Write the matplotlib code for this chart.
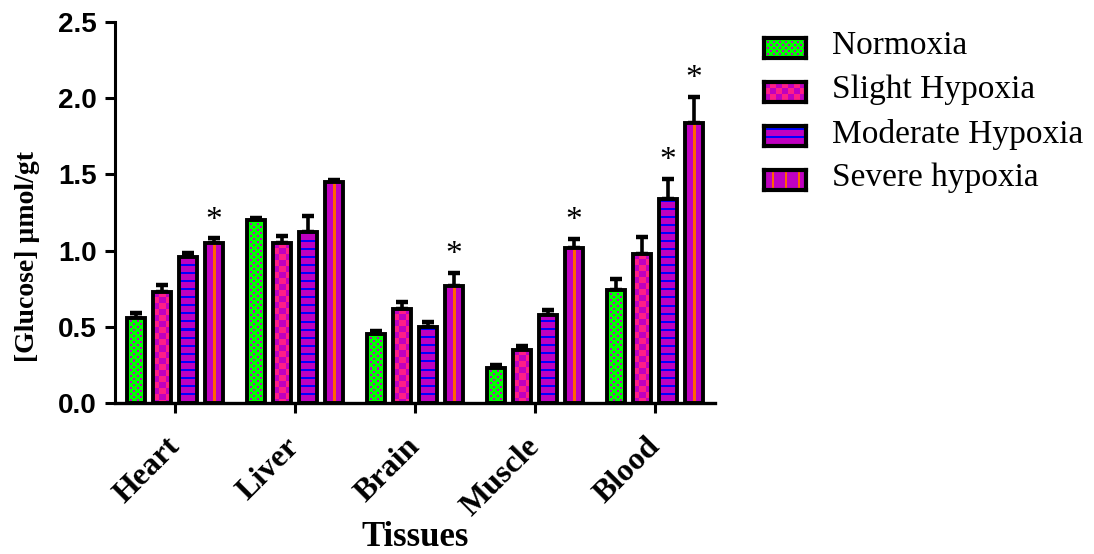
import numpy as np
import matplotlib
matplotlib.use("Agg")
import matplotlib.pyplot as plt
import matplotlib.transforms as mtrans

# datos
tissues = ["Heart", "Liver", "Brain", "Muscle", "Blood"]
groups = ["Normoxia", "Slight Hypoxia", "Moderate Hypoxia", "Severe hypoxia"]

normoxia = [0.56, 1.20, 0.45, 0.23, 0.74]
normoxia_err = [0.03, 0.015, 0.025, 0.02, 0.075]
slight = [0.73, 1.05, 0.62, 0.35, 0.98]
slight_err = [0.045, 0.045, 0.045, 0.025, 0.11]
moderate = [0.96, 1.12, 0.50, 0.58, 1.34]
moderate_err = [0.025, 0.11, 0.03, 0.033, 0.13]
severe = [1.05, 1.45, 0.77, 1.02, 1.84]
severe_err = [0.03, 0.015, 0.085, 0.055, 0.17]

# asteriscos de significancia
moderate_star = [0, 0, 0, 0, 1]
severe_star = [1, 0, 1, 1, 1]

MAGENTA = np.array([192, 0, 192]) / 255
GREEN = np.array([0, 255, 0]) / 255
PINK = np.array([255, 30, 135]) / 255
BLUE = np.array([0, 0, 255]) / 255
ORANGE = np.array([255, 100, 0]) / 255


def patron(tipo, w, h):
    """Devuelve una imagen RGB (h, w) con el relleno de cada grupo."""
    w = max(int(w), 1)
    h = max(int(h), 1)
    yy, xx = np.mgrid[0:h, 0:w]
    img = np.zeros((h, w, 3))
    if tipo == 0:
        img[:] = GREEN
        m = (((xx // 3) + (yy // 3)) % 2 == 0) & (xx % 3 < 2) & (yy % 3 < 2)
        img[m] = MAGENTA
    elif tipo == 1:
        img[:] = PINK
        m = ((xx // 6) + (yy // 6)) % 2 == 0
        img[m] = MAGENTA
    elif tipo == 2:
        img[:] = MAGENTA
        img[(h - 1 - yy) % 8 < 2] = BLUE
    else:
        img[:] = MAGENTA
        img[(xx - w // 2) % 13 < 2] = ORANGE
    return img


plt.rcParams["font.family"] = ["Liberation Serif", "DejaVu Serif"]

fig = plt.figure(figsize=(10.94, 5.54), dpi=100)
W, H = 1094, 554
ax = fig.add_axes([115 / W, (H - 403) / H, 600 / W, 381 / H])
ax.set_xlim(-0.5, 4.5)
ax.set_ylim(0, 2.5)

p0 = ax.transData.transform((0, 0))
p1 = ax.transData.transform((1, 1))
pxx, pxy = p1[0] - p0[0], p1[1] - p0[1]

series = [normoxia, slight, moderate, severe]
errores = [normoxia_err, slight_err, moderate_err, severe_err]
estrellas = [None, None, moderate_star, severe_star]
ancho = 0.145
paso = 0.216
x = np.arange(len(tissues))

for g in range(4):
    pos = x + (g - 1.5) * paso
    for xi, v in zip(pos, series[g]):
        img = patron(g, ancho * pxx, v * pxy)
        ax.imshow(img, extent=(xi - ancho / 2, xi + ancho / 2, 0, v),
                  aspect="auto", interpolation="nearest", zorder=2)
    ax.bar(pos, series[g], ancho, fill=False, edgecolor="black",
           linewidth=2.8, zorder=3)
    ax.errorbar(pos, series[g], yerr=[np.zeros(5), errores[g]], fmt="none",
                ecolor="black", elinewidth=2.6, capsize=4, capthick=3.2, zorder=1)
    if estrellas[g] is not None:
        for xi, v, e, s in zip(pos, series[g], errores[g], estrellas[g]):
            if s:
                ax.annotate("*", (xi, v + e), xytext=(0, 2), textcoords="offset points",
                            ha="center", va="bottom", fontsize=24)

ax.set_xlim(-0.5, 4.5)
ax.set_ylim(0, 2.5)

for lado in ["top", "right"]:
    ax.spines[lado].set_visible(False)
ax.spines["left"].set_linewidth(2.2)
ax.spines["bottom"].set_linewidth(2.4)

ax.set_yticks([0, 0.5, 1.0, 1.5, 2.0, 2.5])
ax.set_yticklabels(["0.0", "0.5", "1.0", "1.5", "2.0", "2.5"],
                   family="Liberation Sans", fontweight="bold", fontsize=20)
ax.tick_params(axis="y", width=2.2, length=7, pad=6)
ax.set_xticks(x)
ax.set_xticklabels(tissues, rotation=45, ha="right", rotation_mode="anchor",
                   fontweight="bold", fontsize=23)
ax.tick_params(axis="x", width=2.2, length=7, pad=14)
desplazar = mtrans.ScaledTranslation(-7 / 72, 0, fig.dpi_scale_trans)
for lbl in ax.get_xticklabels():
    lbl.set_transform(lbl.get_transform() + desplazar)

fig.text(28 / W, 1 - 257 / H, "[Glucose] \u00b5mol/gt", rotation=90,
         ha="center", va="center", fontweight="bold", fontsize=20)
fig.text(415 / W, 1 - 538 / H, "Tissues", ha="center", va="center",
         fontweight="bold", fontsize=25)

# leyenda manual
for i, nombre in enumerate(groups):
    yc = 48 + i * 44
    sw = fig.add_axes([764 / W, 1 - (yc + 10) / H, 42 / W, 20 / H])
    sw.imshow(patron(i, 42, 20), aspect="auto", interpolation="nearest")
    sw.set_xticks([])
    sw.set_yticks([])
    for s in sw.spines.values():
        s.set_linewidth(3)
    fig.text(832 / W, 1 - (yc - 2) / H, nombre, ha="left", va="center", fontsize=24)

fig.savefig("out.png", dpi=100)
